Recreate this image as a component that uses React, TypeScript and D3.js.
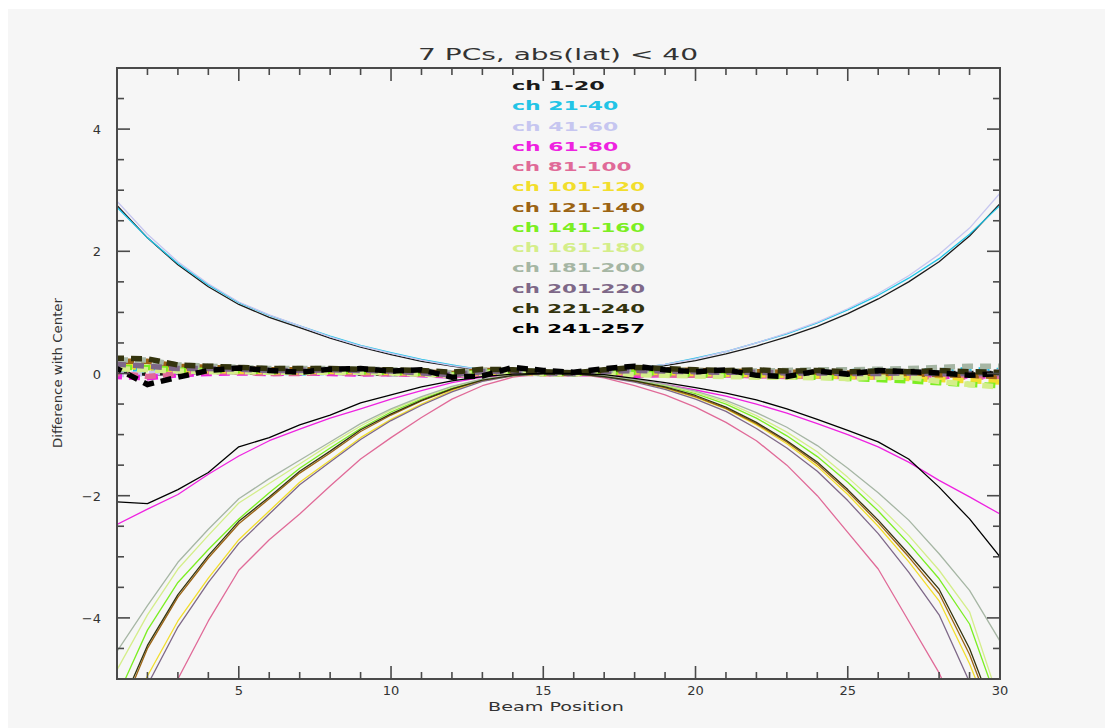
import React from "react";
import * as d3 from "d3";

// ---------- data ----------
const beamPositions = [1, 2, 3, 4, 5, 6, 7, 8, 9, 10, 11, 12, 13, 14, 15, 16, 17, 18, 19, 20, 21, 22, 23, 24, 25, 26, 27, 28, 29, 30];

const channelLabels = [
  "ch 1-20", "ch 21-40", "ch 41-60", "ch 61-80", "ch 81-100", "ch 101-120", "ch 121-140",
  "ch 141-160", "ch 161-180", "ch 181-200", "ch 201-220", "ch 221-240", "ch 241-257",
];

// thin solid lines: raw difference with center
const raw1 = [2.75, 2.22, 1.78, 1.42, 1.13, 0.92, 0.75, 0.58, 0.43, 0.31, 0.2, 0.12, 0.05, 0.02, 0, 0, 0.02, 0.06, 0.13, 0.21, 0.32, 0.45, 0.6, 0.77, 0.98, 1.22, 1.5, 1.83, 2.25, 2.78];
const raw2 = [2.72, 2.22, 1.8, 1.45, 1.16, 0.95, 0.78, 0.61, 0.46, 0.34, 0.23, 0.14, 0.06, 0.02, 0, 0, 0.03, 0.08, 0.15, 0.25, 0.36, 0.5, 0.65, 0.83, 1.04, 1.28, 1.56, 1.88, 2.28, 2.75];
const raw3 = [2.82, 2.28, 1.83, 1.47, 1.17, 0.96, 0.78, 0.6, 0.45, 0.33, 0.22, 0.13, 0.06, 0.02, 0, 0, 0.03, 0.08, 0.15, 0.24, 0.36, 0.5, 0.66, 0.84, 1.06, 1.31, 1.6, 1.95, 2.38, 2.95];
const raw4 = [-2.47, -2.22, -1.98, -1.65, -1.35, -1.1, -0.91, -0.73, -0.58, -0.42, -0.28, -0.15, -0.06, -0.02, 0, 0, -0.03, -0.1, -0.18, -0.27, -0.37, -0.5, -0.65, -0.82, -1.0, -1.2, -1.45, -1.75, -2.02, -2.3];
const raw5 = [-7, -6, -5.0, -4.05, -3.22, -2.72, -2.3, -1.84, -1.4, -1.05, -0.72, -0.42, -0.2, -0.06, 0, 0, -0.07, -0.2, -0.35, -0.55, -0.8, -1.1, -1.5, -2.0, -2.6, -3.2, -4.05, -4.9, -6, -7];
const raw6 = [-6.0, -4.95, -4.05, -3.35, -2.72, -2.25, -1.78, -1.42, -1.05, -0.75, -0.5, -0.28, -0.12, -0.04, 0, 0, -0.05, -0.13, -0.24, -0.39, -0.58, -0.84, -1.15, -1.52, -1.98, -2.5, -3.08, -3.72, -4.75, -6];
const raw7 = [-5.7, -4.5, -3.66, -3.02, -2.46, -2.05, -1.63, -1.3, -0.95, -0.68, -0.45, -0.26, -0.11, -0.03, 0, 0, -0.05, -0.13, -0.23, -0.38, -0.57, -0.82, -1.12, -1.48, -1.93, -2.44, -3.0, -3.6, -4.6, -5.9];
const raw8 = [-5.3, -4.2, -3.42, -2.88, -2.38, -1.95, -1.55, -1.22, -0.9, -0.63, -0.42, -0.24, -0.1, -0.03, 0, 0, -0.04, -0.11, -0.2, -0.33, -0.5, -0.73, -1.02, -1.36, -1.78, -2.25, -2.78, -3.36, -4.1, -5.5];
const raw9 = [-4.85, -3.95, -3.2, -2.65, -2.12, -1.8, -1.48, -1.16, -0.86, -0.6, -0.4, -0.22, -0.1, -0.03, 0, 0, -0.04, -0.1, -0.19, -0.31, -0.47, -0.69, -0.96, -1.28, -1.7, -2.15, -2.65, -3.22, -3.9, -5.4];
const raw10 = [-4.55, -3.8, -3.09, -2.55, -2.05, -1.72, -1.42, -1.12, -0.82, -0.58, -0.38, -0.21, -0.09, -0.03, 0, 0, -0.04, -0.1, -0.18, -0.29, -0.44, -0.64, -0.88, -1.18, -1.55, -1.95, -2.4, -2.95, -3.55, -4.38];
const raw11 = [-6.2, -5.1, -4.15, -3.42, -2.78, -2.3, -1.82, -1.45, -1.08, -0.77, -0.52, -0.3, -0.13, -0.04, 0, 0, -0.06, -0.14, -0.26, -0.42, -0.62, -0.9, -1.22, -1.6, -2.08, -2.62, -3.25, -3.95, -5.05, -6.2];
const raw12 = [-5.6, -4.45, -3.62, -2.98, -2.42, -2.02, -1.6, -1.27, -0.92, -0.66, -0.44, -0.25, -0.11, -0.03, 0, 0, -0.05, -0.12, -0.22, -0.36, -0.55, -0.8, -1.1, -1.45, -1.9, -2.4, -2.95, -3.53, -4.5, -5.8];
const raw13 = [-2.1, -2.13, -1.9, -1.62, -1.2, -1.05, -0.84, -0.68, -0.48, -0.35, -0.22, -0.12, -0.05, -0.01, 0, 0, -0.02, -0.08, -0.15, -0.23, -0.32, -0.43, -0.58, -0.75, -0.93, -1.12, -1.4, -1.86, -2.38, -3.0];

// thick dashed lines: after 7-PC correction
const pc1 = [0.05, 0.0, 0.02, 0.04, 0.03, 0.02, 0.03, 0.02, 0.01, 0.0, 0.0, -0.02, 0.02, 0.02, 0.0, 0.0, 0.01, 0.02, 0.02, 0.0, 0.0, -0.01, 0.0, 0.01, 0.0, 0.0, 0.01, 0.0, 0.0, 0.0];
const pc2 = [0.08, 0.05, 0.06, 0.05, 0.04, 0.03, 0.01, 0.02, 0.03, 0.02, 0.01, -0.02, 0.01, 0.02, 0.01, 0.0, 0.02, 0.05, 0.04, 0.03, 0.02, 0.01, 0.0, 0.02, 0.03, 0.04, 0.03, 0.05, 0.06, 0.05];
const pc3 = [-0.02, 0.0, 0.03, 0.04, 0.02, 0.02, 0.02, 0.01, 0.0, 0.0, 0.0, -0.03, 0.0, 0.01, 0.0, 0.0, 0.01, 0.02, 0.02, 0.01, 0.0, 0.0, -0.01, 0.0, 0.0, 0.01, 0.0, 0.02, 0.02, 0.03];
const pc4 = [-0.05, -0.07, -0.02, 0.0, 0.01, 0.0, 0.01, 0.0, -0.01, 0.0, -0.02, -0.04, 0.0, 0.01, 0.0, 0.0, -0.01, -0.03, -0.02, -0.03, -0.02, -0.04, -0.02, -0.04, -0.03, -0.04, -0.03, -0.05, -0.04, -0.04];
const pc5 = [0.0, -0.05, 0.0, 0.03, 0.02, 0.0, 0.0, 0.02, 0.0, 0.0, -0.01, -0.03, 0.0, 0.0, 0.0, 0.0, 0.0, 0.0, -0.02, -0.03, -0.02, -0.03, -0.05, -0.04, -0.05, -0.06, -0.06, -0.05, -0.06, -0.05];
const pc6 = [0.12, 0.1, 0.06, 0.05, 0.04, 0.03, 0.03, 0.04, 0.03, 0.02, 0.0, -0.02, 0.02, 0.02, 0.0, 0.0, 0.02, 0.03, 0.02, 0.0, -0.01, -0.02, -0.03, -0.04, -0.05, -0.06, -0.08, -0.1, -0.12, -0.14];
const pc7 = [0.2, 0.2, 0.12, 0.1, 0.08, 0.06, 0.06, 0.06, 0.05, 0.05, 0.03, 0.0, 0.05, 0.05, 0.02, 0.0, 0.04, 0.08, 0.06, 0.05, 0.04, 0.03, 0.02, 0.02, 0.01, 0.0, 0.0, -0.02, -0.03, -0.05];
const pc8 = [0.1, 0.1, 0.06, 0.05, 0.05, 0.03, 0.03, 0.04, 0.03, 0.02, 0.0, -0.02, 0.02, 0.03, 0.0, 0.0, 0.02, 0.02, 0.0, -0.02, -0.03, -0.04, -0.05, -0.06, -0.08, -0.1, -0.12, -0.15, -0.18, -0.2];
const pc9 = [0.08, 0.06, 0.04, 0.03, 0.03, 0.02, 0.02, 0.02, 0.02, 0.01, -0.01, -0.03, 0.01, 0.01, 0.0, 0.0, 0.0, -0.02, -0.03, -0.04, -0.05, -0.06, -0.06, -0.07, -0.08, -0.06, -0.06, -0.13, -0.18, -0.22];
const pc10 = [0.22, 0.22, 0.14, 0.12, 0.1, 0.08, 0.08, 0.08, 0.07, 0.06, 0.04, 0.01, 0.05, 0.06, 0.03, 0.01, 0.05, 0.07, 0.06, 0.05, 0.04, 0.04, 0.05, 0.06, 0.06, 0.07, 0.08, 0.1, 0.12, 0.12];
const pc11 = [0.15, 0.12, 0.08, 0.08, 0.07, 0.05, 0.05, 0.06, 0.05, 0.04, 0.01, -0.02, 0.03, 0.04, 0.01, 0.0, 0.03, 0.05, 0.04, 0.03, 0.02, 0.02, 0.01, 0.01, 0.0, 0.0, 0.01, 0.0, 0.0, 0.0];
const pc12 = [0.25, 0.24, 0.14, 0.12, 0.1, 0.08, 0.08, 0.08, 0.07, 0.06, 0.05, 0.02, 0.07, 0.06, 0.03, 0.01, 0.06, 0.1, 0.08, 0.06, 0.05, 0.06, 0.04, 0.05, 0.03, 0.04, 0.03, 0.05, 0.03, 0.02];
const pc13 = [0.08, -0.18, -0.06, 0.05, 0.09, 0.05, 0.02, 0.07, 0.08, 0.04, 0.06, -0.06, -0.04, 0.1, 0.05, 0.02, 0.08, 0.12, 0.06, 0.03, 0.06, -0.03, -0.05, 0.04, -0.01, 0.05, 0.03, 0.01, -0.03, 0.0];

const xMajorTicks = [5, 10, 15, 20, 25, 30];
const yMajorTicks = [-4, -2, 0, 2, 4];
const titleText = "7 PCs, abs(lat) < 40";
const xTitle = "Beam Position";
const yTitle = "Difference with Center";

// ---------- style ----------
const colors = [
  "#1a1a1a", "#22c4e6", "#c6c6f0", "#ee22e0", "#e06a98", "#f2de2c", "#9c6414",
  "#7cee22", "#d4ee8a", "#a6b6a4", "#7e6888", "#34340e", "#000000",
];

const rawSeries = [raw1, raw2, raw3, raw4, raw5, raw6, raw7, raw8, raw9, raw10, raw11, raw12, raw13];
const pcSeries = [pc1, pc2, pc3, pc4, pc5, pc6, pc7, pc8, pc9, pc10, pc11, pc12, pc13];

export default function App() {
  const W = 1097;
  const H = 720;
  const L = 117, R = 1000, T = 68, B = 679;
  const x = d3.scaleLinear().domain([1, 30]).range([L, R]);
  const y = d3.scaleLinear().domain([-5, 5]).range([B, T]);
  const line = d3
    .line<number>()
    .x((_, i) => x(beamPositions[i]))
    .y((d) => y(d));

  const xMinor = d3.range(1, 31, 1).filter((v) => !xMajorTicks.includes(v));
  const yMinor = d3.range(-4.5, 5, 0.5).filter((v) => !yMajorTicks.includes(v));
  const axisColor = "#4a4a4a";
  const font = "'DejaVu Sans', Verdana, sans-serif";
  const majorLen = 13;
  const minorLen = 7;

  return (
    <svg width={W} height={H} style={{ display: "block" }}>
      <rect x={0} y={1} width={W} height={H - 1} fill="#f6f6f6" />
      <g transform="translate(-8,-8)">
        <defs>
          <clipPath id="plotClip">
            <rect x={L} y={T} width={R - L} height={B - T} />
          </clipPath>
        </defs>

        <g clipPath="url(#plotClip)">
          {rawSeries.map((s, i) => (
            <g key={i}>
              <path d={line(s) || ""} fill="none" stroke={colors[i]} strokeWidth={1.3} strokeLinejoin="round" />
              <path
                d={line(pcSeries[i]) || ""}
                fill="none"
                stroke={colors[i]}
                strokeWidth={5.5}
                strokeDasharray="11 7"
                strokeDashoffset={i * 2}
              />
            </g>
          ))}
        </g>

        {/* frame */}
        <rect x={L} y={T} width={R - L} height={B - T} fill="none" stroke={axisColor} strokeWidth={2} />

        {/* x ticks bottom & top */}
        {xMajorTicks.map((v) => (
          <g key={"xM" + v} stroke={axisColor} strokeWidth={1.6}>
            <line x1={x(v)} x2={x(v)} y1={B} y2={B - majorLen} />
            <line x1={x(v)} x2={x(v)} y1={T} y2={T + majorLen} />
          </g>
        ))}
        {xMinor.map((v) => (
          <g key={"xm" + v} stroke={axisColor} strokeWidth={1.6}>
            <line x1={x(v)} x2={x(v)} y1={B} y2={B - minorLen} />
            <line x1={x(v)} x2={x(v)} y1={T} y2={T + minorLen} />
          </g>
        ))}
        {/* y ticks left & right */}
        {yMajorTicks.map((v) => (
          <g key={"yM" + v} stroke={axisColor} strokeWidth={1.6}>
            <line x1={L} x2={L + majorLen} y1={y(v)} y2={y(v)} />
            <line x1={R} x2={R - majorLen} y1={y(v)} y2={y(v)} />
          </g>
        ))}
        {yMinor.map((v) => (
          <g key={"ym" + v} stroke={axisColor} strokeWidth={1.6}>
            <line x1={L} x2={L + minorLen} y1={y(v)} y2={y(v)} />
            <line x1={R} x2={R - minorLen} y1={y(v)} y2={y(v)} />
          </g>
        ))}

        {/* tick labels */}
        {xMajorTicks.map((v) => (
          <text key={"xl" + v} x={x(v)} y={695} textAnchor="middle" fontFamily={font} fontSize={13} fill="#333">
            {String(v)}
          </text>
        ))}
        {yMajorTicks.map((v) => (
          <text key={"yl" + v} x={101} y={y(v) + 5} textAnchor="end" fontFamily={font} fontSize={13} fill="#333">
            {v < 0 ? "\u2212" + Math.abs(v) : String(v)}
          </text>
        ))}

        {/* titles */}
        <text x={418} y={60} fontFamily={font} fontSize={16} fill="#333" textLength={280} lengthAdjust="spacingAndGlyphs">
          {titleText}
        </text>
        <text x={488} y={711} fontFamily={font} fontSize={12.5} fill="#333" textLength={136} lengthAdjust="spacingAndGlyphs">
          {xTitle}
        </text>
        <text
          transform={`translate(62,448) rotate(-90)`}
          fontFamily={font}
          fontSize={12}
          fill="#333"
          textLength={150}
          lengthAdjust="spacingAndGlyphs"
        >
          {yTitle}
        </text>

        {/* legend */}
        {channelLabels.map((lab, i) => (
          <text
            key={lab}
            x={512}
            y={90 + i * 20.25}
            fontFamily={font}
            fontSize={13}
            fontWeight="bold"
            fill={colors[i]}
            textLength={13.4 * lab.length - 1}
            lengthAdjust="spacingAndGlyphs"
          >
            {lab}
          </text>
        ))}
      </g>
    </svg>
  );
}
